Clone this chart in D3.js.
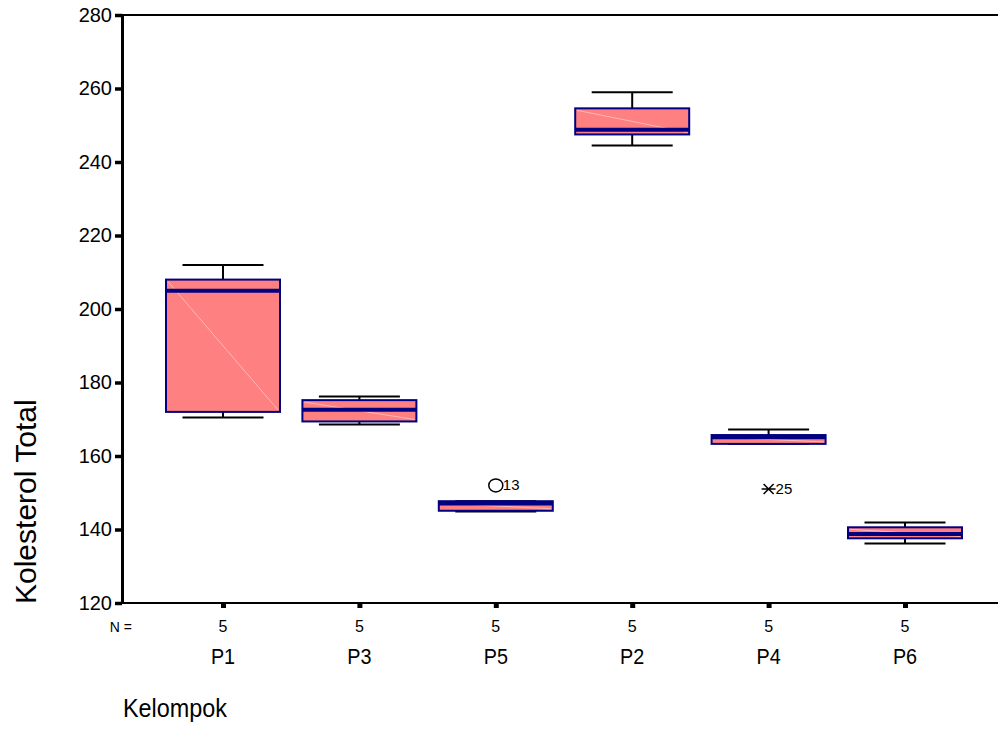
<!DOCTYPE html>
<html>
<head>
<meta charset="utf-8">
<script src="https://cdn.jsdelivr.net/npm/d3@7"></script>
<style>
	body { margin: 0; background: #fff; }
	text { font-family: "Liberation Sans", Arial, sans-serif; fill: #000; }
</style>
</head>
<body>
<div id="chart"></div>
<script>
// DATA
var groups = ["P1", "P3", "P5", "P2", "P4", "P6"];
var counts = [5, 5, 5, 5, 5, 5];
var whiskerLow = [170.5, 168.6, 144.9, 244.5, 163.3, 136.2];
var q1 = [172, 169.4, 145.1, 247.5, 163.3, 137.6];
var median = [205, 172.6, 147.1, 248.8, 165.1, 138.8];
var q3 = [208, 175.2, 147.7, 254.6, 165.7, 140.6];
var whiskerHigh = [212, 176.2, 147.7, 259, 167.2, 141.9];
var outlierGroups = ["P5", "P4"];
var outlierValues = [152, 151];
var outlierLabels = ["13", "25"];
var outlierKinds = ["circle", "star"];
var yTicks = [120, 140, 160, 180, 200, 220, 240, 260, 280];

var W = 998, H = 744;
var margin = { top: 15, right: 0, bottom: 141, left: 122 },
	width = W - margin.left - margin.right,
	height = H - margin.top - margin.bottom;

var root = d3
	.select("#chart")
	.append("svg")
	.attr("width", W)
	.attr("height", H);

var svg = root
	.append("g")
	.attr("transform", "translate(" + margin.left + "," + margin.top + ")");

// SCALES
var x = d3.scalePoint().domain(groups).range([101, 783]);
var y = d3.scaleLinear().domain([120, 280]).range([height, 0]);

var boxW = 114, capW = 81;

// FRAME: top line
svg.append("line")
	.attr("x1", 0).attr("x2", width)
	.attr("y1", 0).attr("y2", 0)
	.attr("stroke", "#000").attr("stroke-width", 2);

// X-AXIS (square tick marks)
var xAxis = svg.append("g")
	.attr("transform", "translate(0," + height + ")")
	.call(d3.axisBottom(x).tickSize(5).tickSizeOuter(0).tickFormat(""));
xAxis.select(".domain").attr("stroke-width", 2).attr("d", "M0,0H" + width);
xAxis.selectAll(".tick line").attr("stroke-width", 5);

// Y-AXIS
var yAxis = svg.append("g")
	.call(d3.axisLeft(y).tickValues(yTicks).tickSize(7).tickSizeOuter(0).tickPadding(3));
yAxis.select(".domain").attr("stroke-width", 3);
yAxis.selectAll(".tick line").attr("stroke-width", 3.5);
yAxis.selectAll(".tick text")
	.style("font-family", "'Liberation Sans', Arial, sans-serif")
	.style("font-size", "20px");

// N = labels
svg.append("text")
	.attr("x", 10).attr("y", height + 29)
	.attr("text-anchor", "end")
	.style("font-size", "14px")
	.text("N =");
svg.selectAll(".nlab")
	.data(groups)
	.join("text")
	.attr("class", "nlab")
	.attr("x", function (d) { return x(d); })
	.attr("y", height + 29)
	.attr("text-anchor", "middle")
	.style("font-size", "16px")
	.text(function (d, i) { return counts[i]; });

// CATEGORY LABELS
svg.selectAll(".glab")
	.data(groups)
	.join("text")
	.attr("class", "glab")
	.attr("transform", function (d) {
		return "translate(" + x(d) + "," + (height + 61) + ") scale(0.9,1)";
	})
	.attr("text-anchor", "middle")
	.style("font-size", "22px")
	.text(function (d) { return d; });

// AXIS TITLES
root.append("text")
	.attr("transform", "translate(123,717) scale(0.9,1)")
	.style("font-size", "26px")
	.text("Kelompok");
root.append("text")
	.attr("transform", "translate(36,604) rotate(-90)")
	.style("font-size", "30px")
	.text("Kolesterol Total");

// BOXES
var boxes = svg.selectAll(".box")
	.data(groups)
	.join("g")
	.attr("class", "box");

// whisker stems
boxes.append("line")
	.attr("x1", function (d) { return x(d); })
	.attr("x2", function (d) { return x(d); })
	.attr("y1", function (d, i) { return y(whiskerHigh[i]); })
	.attr("y2", function (d, i) { return y(q3[i]); })
	.attr("stroke", "#000").attr("stroke-width", 2);
boxes.append("line")
	.attr("x1", function (d) { return x(d); })
	.attr("x2", function (d) { return x(d); })
	.attr("y1", function (d, i) { return y(q1[i]); })
	.attr("y2", function (d, i) { return y(whiskerLow[i]); })
	.attr("stroke", "#000").attr("stroke-width", 2);
// whisker caps
boxes.append("line")
	.attr("x1", function (d) { return x(d) - capW / 2; })
	.attr("x2", function (d) { return x(d) + capW / 2; })
	.attr("y1", function (d, i) { return y(whiskerHigh[i]); })
	.attr("y2", function (d, i) { return y(whiskerHigh[i]); })
	.attr("stroke", "#000").attr("stroke-width", 2);
boxes.append("line")
	.attr("x1", function (d) { return x(d) - capW / 2; })
	.attr("x2", function (d) { return x(d) + capW / 2; })
	.attr("y1", function (d, i) { return y(whiskerLow[i]); })
	.attr("y2", function (d, i) { return y(whiskerLow[i]); })
	.attr("stroke", "#000").attr("stroke-width", 2);

// box body
boxes.append("rect")
	.attr("x", function (d) { return x(d) - boxW / 2; })
	.attr("y", function (d, i) { return y(q3[i]); })
	.attr("width", boxW)
	.attr("height", function (d, i) { return y(q1[i]) - y(q3[i]); })
	.attr("fill", "#ff8080")
	.attr("stroke", "#000080")
	.attr("stroke-width", 2);

// faint diagonal (shading artefact)
boxes.append("line")
	.attr("x1", function (d) { return x(d) - boxW / 2 + 2; })
	.attr("x2", function (d) { return x(d) + boxW / 2 - 2; })
	.attr("y1", function (d, i) { return y(q3[i]) + 2; })
	.attr("y2", function (d, i) { return y(q1[i]) - 2; })
	.attr("stroke", "#ffb8b8").attr("stroke-width", 1);

// median
boxes.append("line")
	.attr("x1", function (d) { return x(d) - boxW / 2; })
	.attr("x2", function (d) { return x(d) + boxW / 2; })
	.attr("y1", function (d, i) { return y(median[i]); })
	.attr("y2", function (d, i) { return y(median[i]); })
	.attr("stroke", "#000080").attr("stroke-width", 4);

// OUTLIERS
outlierGroups.forEach(function (g, i) {
	var cx = x(g), cy = y(outlierValues[i]);
	if (outlierKinds[i] === "circle") {
		svg.append("ellipse")
			.attr("cx", cx).attr("cy", cy)
			.attr("rx", 7).attr("ry", 6.5)
			.attr("fill", "none").attr("stroke", "#000").attr("stroke-width", 1.5);
	} else {
		svg.append("path")
			.attr("d", "M" + (cx - 7) + "," + cy + "H" + (cx + 7) +
				"M" + (cx - 5) + "," + (cy - 5) + "L" + (cx + 5) + "," + (cy + 5) +
				"M" + (cx - 5) + "," + (cy + 5) + "L" + (cx + 5) + "," + (cy - 5))
			.attr("stroke", "#000").attr("stroke-width", 1.5);
	}
	svg.append("text")
		.attr("x", cx + 7).attr("y", cy + 5)
		.style("font-size", "15px")
		.text(outlierLabels[i]);
});
</script>
</body>
</html>
